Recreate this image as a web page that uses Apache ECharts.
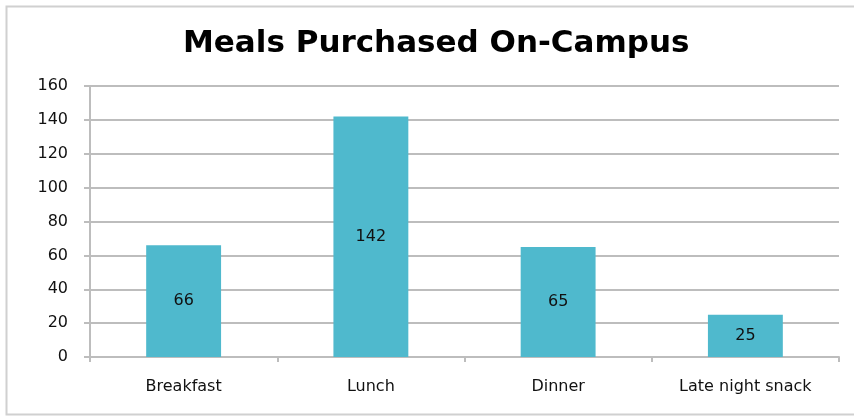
<!DOCTYPE html>
<html>
<head>
<meta charset="utf-8">
<script src="https://cdn.jsdelivr.net/npm/echarts@6/dist/echarts.min.js"></script>
<style>
  html, body { margin: 0; padding: 0; background: #fff; }
  #chart { width: 854px; height: 417px; }
</style>
</head>
<body>
<div id="chart"></div>
<script>
// chart data
const categories = ['Breakfast', 'Lunch', 'Dinner', 'Late night snack'];
const meals = [66, 142, 65, 25];
const yTicks = { min: 0, max: 160, interval: 20 };

const chart = echarts.init(document.getElementById('chart'));

const option = {
    animation: false,
    backgroundColor: '#fff',
    title: {
        text: 'Meals Purchased On-Campus',
        left: 178,
        top: 23,
        textStyle: {
            fontFamily: 'DejaVu Sans',
            fontWeight: 'bold',
            fontSize: 31,
            color: '#000'
        }
    },
    graphic: [
        {
            type: 'rect',
            shape: { x: 6.5, y: 6.5, width: 860, height: 408 },
            style: { fill: 'none', stroke: '#d0d0d0', lineWidth: 2 },
            silent: true
        }
    ],
    grid: { left: 90, right: 15, top: 86, bottom: 60 },
    xAxis: {
        type: 'category',
        data: categories,
        axisLine: { lineStyle: { color: '#bdbdbd', width: 2 } },
        axisTick: { show: true, length: 5, lineStyle: { color: '#bdbdbd', width: 2 } },
        axisLabel: {
            margin: 22,
            fontFamily: 'DejaVu Sans',
            fontSize: 16,
            color: '#111'
        }
    },
    yAxis: {
        type: 'value',
        min: yTicks.min,
        max: yTicks.max,
        interval: yTicks.interval,
        axisLine: { show: true, lineStyle: { color: '#bdbdbd', width: 2 } },
        axisTick: { show: true, length: 6, lineStyle: { color: '#bdbdbd', width: 2 } },
        splitLine: { lineStyle: { color: '#bdbdbd', width: 2 } },
        axisLabel: {
            margin: 22,
            fontFamily: 'DejaVu Sans',
            fontSize: 16,
            color: '#111'
        }
    },
    series: [
        {
            type: 'bar',
            data: meals,
            barWidth: '40%',
            itemStyle: { color: '#4fb9cd' },
            label: {
                show: true,
                position: 'inside',
                fontFamily: 'DejaVu Sans',
                fontSize: 16,
                color: '#111'
            }
        }
    ]
};

chart.setOption(option);
</script>
</body>
</html>
